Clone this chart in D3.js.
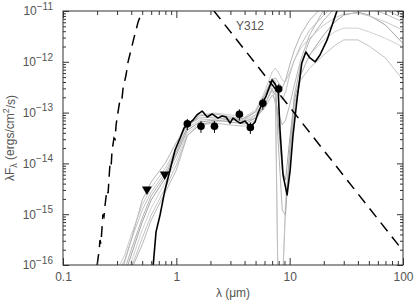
<!DOCTYPE html>
<html><head><meta charset="utf-8">
<script src="https://cdn.jsdelivr.net/npm/d3@7"></script>
<style>
body{margin:0;background:#fff}
svg text{font-family:"Liberation Sans",Arial,sans-serif;fill:#555}
</style></head><body><div id="chart"></div>
<script>
// wavelength grid (micron) shared by the grey model SEDs
const lamGrid = [0.3,0.35,0.4,0.5,0.6,0.8,1.0,1.25,1.6,2.2,3,4,5,6,7,7.5,7.9,8.6,9.2,10,11,12.5,15,20,25,30,40,50,70,100];

// grey model fits (lambda F_lambda, erg/cm2/s)
const modelA = [4.0e-17,1.15e-16,3.1e-16,1.9e-15,4.3e-15,1.02e-14,2.6e-14,5.7e-14,7.8e-14,8.2e-14,7.1e-14,7.8e-14,1.03e-13,2.2e-13,4.4e-13,4.8e-13,4.0e-13,3.05e-13,4.4e-13,8.6e-13,1.7e-12,3.4e-12,6.6e-12,1.31e-11,2.1e-11,2.6e-11,2.6e-11,2.1e-11,1.31e-11,8.3e-12];
const modelB = [6.4e-17,1.25e-16,3.1e-16,1.21e-15,2.7e-15,6.8e-15,1.84e-14,5.0e-14,7.1e-14,7.5e-14,7.8e-14,7.1e-14,9.0e-14,1.77e-13,3.5e-13,3.5e-13,2.55e-13,1.77e-13,2.55e-13,5.5e-13,1.08e-12,2.1e-12,4.2e-12,8.3e-12,1.31e-11,1.5e-11,1.44e-11,1.15e-11,8.7e-12,6.1e-12];
const modelC = [3.2e-17,6.4e-17,1.57e-16,7.0e-16,1.9e-15,5.2e-15,1.46e-14,4.5e-14,6.5e-14,7.1e-14,6.5e-14,6.0e-14,7.8e-14,1.41e-13,2.8e-13,2.2e-13,7.1e-14,7.4e-15,4.7e-15,2.9e-14,1.77e-13,5.5e-13,1.36e-12,3.4e-12,6.1e-12,8.3e-12,9.5e-12,8.3e-12,5.3e-12,2.3e-12];
const modelD = [2.6e-17,4.0e-17,1.15e-16,4.9e-16,1.32e-15,4.3e-15,1.17e-14,4.0e-14,6.0e-14,6.5e-14,7.1e-14,6.5e-14,8.6e-14,1.77e-13,4.4e-13,2.2e-13,3.2e-17,3.2e-17,1.9e-15,1.84e-14,1.12e-13,5.5e-13,1.36e-12,2.7e-12,3.9e-12,4.6e-12,4.6e-12,3.9e-12,2.9e-12,1.95e-12];
const modelE = [2.0e-17,3.2e-17,8.7e-17,3.4e-16,9.6e-16,3.3e-15,9.3e-15,3.6e-14,5.7e-14,6.2e-14,5.7e-14,5.4e-14,7.1e-14,1.41e-13,3.05e-13,1.41e-13,3.2e-17,3.2e-17,1.21e-15,1.17e-14,1.41e-13,4.4e-13,7.5e-13,1.36e-12,2.1e-12,2.7e-12,2.7e-12,2.05e-12,1.19e-12,4.4e-13];
const modelF = [4.0e-17,8.0e-17,2.0e-16,8.4e-16,2.3e-15,5.9e-15,1.67e-14,5.2e-14,8.6e-14,9.4e-14,8.2e-14,7.5e-14,1.03e-13,2.2e-13,4.8e-13,4.0e-13,2.9e-14,1.21e-15,9.6e-16,1.84e-14,2.2e-13,8.6e-13,2.7e-12,6.6e-12,1.15e-11,1.44e-11,1.5e-11,1.31e-11,1.05e-11,7.3e-12];
const modelG = [8.0e-17,1.57e-16,3.9e-16,1.52e-15,3.3e-15,8.1e-15,2.0e-14,6.0e-14,9.0e-14,9.8e-14,9.0e-14,8.2e-14,1.12e-13,2.55e-13,6.3e-13,7.5e-13,6.3e-13,4.4e-13,4.0e-13,6.3e-13,1.08e-12,1.87e-12,2.9e-12,5.3e-12,7.3e-12,8.7e-12,9.1e-12,8.0e-12,6.1e-12,4.2e-12];
const modelH = [2.0e-17,2.6e-17,8.0e-17,2.5e-16,7.7e-16,2.7e-15,7.4e-15,3.5e-14,5.7e-14,6.8e-14,7.5e-14,6.8e-14,7.8e-14,1.23e-13,2.2e-13,1.77e-13,1.03e-13,5.7e-14,7.1e-14,1.41e-13,3.5e-13,1.08e-12,3.4e-12,1.05e-11,2.6e-11,4.1e-11,4.1e-11,2.8e-11,1.65e-11,9.5e-12];
const models = [modelA,modelB,modelC,modelD,modelE,modelF,modelG,modelH];
const modelGrey = ["#aaa","#bbb","#999","#ccc","#bbb","#aaa","#c4c4c4","#b0b0b0"];

// best fit model (black)
const bestLam = [0.622,0.662,0.718,0.794,0.88,0.974,1.08,1.17,1.25,1.40,1.52,1.69,1.87,2.07,2.33,2.53,2.75,2.98,3.16,3.43,3.65,4.04,4.47,4.95,5.26,5.70,6.19,6.58,7.0,7.43,7.91,8.22,8.74,9.49,10.1,10.7,11.6,12.8,13.9,15.1,16.8,18.5,21.4,24.2,26.7,30.8,41.8,62.8,100];
const bestFlux = [8.7e-17,4.5e-16,9.6e-16,3.0e-15,7.4e-15,1.84e-14,3.16e-14,5.0e-14,5.7e-14,7.1e-14,9.0e-14,1.07e-13,8.2e-14,9.4e-14,7.8e-14,8.6e-14,8.2e-14,6.2e-14,7.8e-14,6.8e-14,6.2e-14,6.8e-14,5.2e-14,6.5e-14,9.8e-14,1.48e-13,2.12e-13,3.05e-13,4.4e-13,3.65e-13,2.8e-13,4.5e-14,5.9e-15,2.4e-15,7.4e-15,3.6e-14,1.77e-13,9.5e-13,1.56e-12,1.19e-12,1.0e-12,1.36e-12,2.7e-12,6.1e-12,1.15e-11,1.65e-11,2.4e-11,2.1e-11,1.15e-11];

// stellar photosphere (dashed)
const starLam = [0.20,0.205,0.208,0.212,0.216,0.221,0.225,0.23,0.235,0.244,0.25,0.255,0.26,0.266,0.271,0.282,0.288,0.294,0.306,0.318,0.33,0.339,0.36,0.375,0.398,0.423,0.46,0.50,0.53,0.8,1.2,1.8,2.15,5,20,100];
const starFlux = [1.0e-16,1.5e-16,1.8e-16,3.1e-16,2.6e-16,5.4e-16,1.0e-15,9.0e-16,1.5e-15,3.0e-15,2.6e-15,5.2e-15,1.02e-14,9.0e-15,1.84e-14,3.16e-14,3.0e-14,5.7e-14,1.03e-13,1.77e-13,1.7e-13,3.05e-13,5.5e-13,1.0e-12,1.7e-12,2.95e-12,6.1e-12,1.0e-11,1.5e-11,5e-11,5e-11,1.7e-11,1.0e-11,9.2e-13,1.8e-14,1.9e-16];

// photometry
const photLam = [1.25,1.65,2.17,3.6,4.5,5.8,8.0];
const photFlux = [6.0e-14,5.4e-14,5.4e-14,9.3e-14,5.1e-14,1.52e-13,2.9e-13];
const photErr = [1.5e-14,1.4e-14,1.4e-14,2.3e-14,1.3e-14,3.8e-14,7.2e-14];
const limLam = [0.55,0.79];
const limFlux = [3.1e-15,6.1e-15];

const xMajor = [0.1,1,10,100];
const xTickLabels = ["0.1","1","10","100"];
const yMajor = [1e-16,1e-15,1e-14,1e-13,1e-12,1e-11];
const yTickExp = ["\u221216","\u221215","\u221214","\u221213","\u221212","\u221211"];
const sourceName = "Y312";

const width = 415, height = 300;
const x = d3.scaleLog().domain([0.1,100]).range([63,403]);
const y = d3.scaleLog().domain([1e-16,1e-11]).range([265,11]);

const svg = d3.select("#chart").append("svg")
  .attr("width", width).attr("height", height);

svg.append("clipPath").attr("id","clip")
  .append("rect").attr("x",63).attr("y",11).attr("width",340).attr("height",254);

const plot = svg.append("g").attr("clip-path","url(#clip)");
const line = d3.line().x(d => x(d[0])).y(d => y(d[1]));

// grey models
models.forEach((f,i) => {
  plot.append("path")
    .attr("d", line(d3.zip(lamGrid, f)))
    .attr("fill","none").attr("stroke", modelGrey[i]).attr("stroke-width",0.9);
});

// stellar photosphere
plot.append("path")
  .attr("d", line(d3.zip(starLam, starFlux)))
  .attr("fill","none").attr("stroke","#000").attr("stroke-width",1.5)
  .attr("stroke-dasharray","11,7");

// best fit
plot.append("path")
  .attr("d", line(d3.zip(bestLam, bestFlux)))
  .attr("fill","none").attr("stroke","#000").attr("stroke-width",1.6)
  .attr("stroke-linejoin","round");

// error bars + points
plot.selectAll(".err").data(d3.range(photLam.length)).enter().append("line")
  .attr("x1", i => x(photLam[i])).attr("x2", i => x(photLam[i]))
  .attr("y1", i => y(photFlux[i] - photErr[i])).attr("y2", i => y(photFlux[i] + photErr[i]))
  .attr("stroke","#000").attr("stroke-width",1);
plot.selectAll(".pt").data(d3.range(photLam.length)).enter().append("circle")
  .attr("cx", i => x(photLam[i])).attr("cy", i => y(photFlux[i]))
  .attr("r",3.8).attr("fill","#000");
plot.selectAll(".lim").data(d3.range(limLam.length)).enter().append("path")
  .attr("d", d3.symbol().type(d3.symbolTriangle).size(42))
  .attr("transform", i => `translate(${x(limLam[i])},${y(limFlux[i])}) rotate(180)`)
  .attr("fill","#000");

// axes: ticks on all four sides, pointing inward
const xMinor = x.ticks().filter(v => !xMajor.includes(v));
const yMinor = y.ticks().filter(v => !yMajor.some(m => Math.abs(m - v) / m < 1e-6));

function styleAxis(g) {
  g.select(".domain").remove();
  g.selectAll(".tick line").attr("stroke","#333");
  g.selectAll("text").attr("font-size",12).attr("font-family",null);
}
svg.append("g").attr("transform","translate(0,265)")
  .call(d3.axisBottom(x).tickValues(xMinor).tickSize(-4).tickFormat("")).call(styleAxis);
svg.append("g").attr("transform","translate(0,265)")
  .call(d3.axisBottom(x).tickValues(xMajor).tickSize(-7).tickPadding(7)
    .tickFormat((d,i) => xTickLabels[i])).call(styleAxis);
svg.append("g").attr("transform","translate(0,11)")
  .call(d3.axisTop(x).tickValues(xMinor).tickSize(-4).tickFormat("")).call(styleAxis);
svg.append("g").attr("transform","translate(0,11)")
  .call(d3.axisTop(x).tickValues(xMajor).tickSize(-7).tickFormat("")).call(styleAxis);

svg.append("g").attr("transform","translate(63,0)")
  .call(d3.axisLeft(y).tickValues(yMinor).tickSize(-3).tickFormat("")).call(styleAxis);
const yl = svg.append("g").attr("transform","translate(63,0)")
  .call(d3.axisLeft(y).tickValues(yMajor).tickSize(-6).tickPadding(10).tickFormat(() => ""))
  .call(styleAxis);
yl.selectAll(".tick text").each(function(d,i) {
  const t = d3.select(this);
  t.append("tspan").text("10");
  t.append("tspan").attr("dy","-0.55em").attr("font-size",10).text(yTickExp[i]);
});
svg.append("g").attr("transform","translate(403,0)")
  .call(d3.axisRight(y).tickValues(yMinor).tickSize(-3).tickFormat("")).call(styleAxis);
svg.append("g").attr("transform","translate(403,0)")
  .call(d3.axisRight(y).tickValues(yMajor).tickSize(-6).tickFormat("")).call(styleAxis);

svg.append("rect").attr("x",63).attr("y",11).attr("width",340).attr("height",254)
  .attr("fill","none").attr("stroke","#333").attr("stroke-width",1);

// titles
svg.append("text").attr("x",233).attr("y",297).attr("text-anchor","middle")
  .attr("font-size",12).text("\u03bb (\u03bcm)");
const yt = svg.append("text").attr("transform","translate(14,138) rotate(-90)")
  .attr("text-anchor","middle").attr("font-size",12);
yt.append("tspan").text("\u03bbF");
yt.append("tspan").attr("dy","0.3em").attr("font-size",9).text("\u03bb");
yt.append("tspan").attr("dy","-0.25em").text(" (ergs/cm");
yt.append("tspan").attr("dy","-0.5em").attr("font-size",9).text("2");
yt.append("tspan").attr("dy","0.45em").text("/s)");

svg.append("text").attr("x",236).attr("y",30).attr("font-size",12).text(sourceName);
</script></body></html>
